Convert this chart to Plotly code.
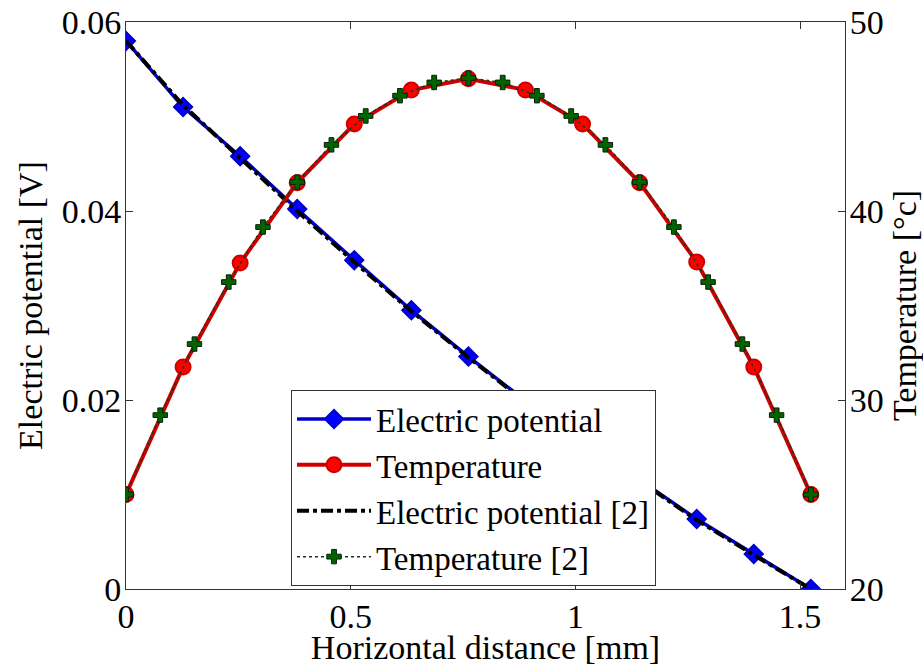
import plotly.graph_objects as go

# Electric potential (simulation) at 13 points
x_ep = [0, 0.127, 0.254, 0.381, 0.508, 0.635, 0.762, 0.889, 1.016, 1.143, 1.27, 1.397, 1.524]
ep = [0.0580, 0.0510, 0.0458, 0.0402, 0.0348, 0.0295, 0.0246, 0.0199, 0.0157, 0.0116, 0.0074, 0.0037, 0.0]

# Electric potential [2]
x_ep2 = [0, 0.127, 0.254, 0.381, 0.508, 0.635, 0.762, 0.889, 1.016, 1.143, 1.27, 1.397, 1.524]
ep2 = [0.0580, 0.0512, 0.0456, 0.0400, 0.0346, 0.0294, 0.0245, 0.0198, 0.0156, 0.0115, 0.0073, 0.0036, 0.0]

# Temperature (simulation) at 13 points
x_t = [0, 0.127, 0.254, 0.381, 0.508, 0.635, 0.762, 0.889, 1.016, 1.143, 1.27, 1.397, 1.524]
temp = [25.0, 31.75, 37.25, 41.5, 44.6, 46.4, 47.0, 46.4, 44.6, 41.5, 37.3, 31.75, 25.0]

# Temperature [2] at 21 points
x_t2 = [0, 0.0762, 0.1524, 0.2286, 0.3048, 0.381, 0.4572, 0.5334, 0.6096, 0.6858, 0.762,
        0.8382, 0.9144, 0.9906, 1.0668, 1.143, 1.2192, 1.2954, 1.3716, 1.4478, 1.524]
temp2 = [25.0, 29.2, 32.96, 36.24, 39.15, 41.53, 43.5, 45.03, 46.1, 46.8, 47.04,
         46.8, 46.1, 45.03, 43.5, 41.53, 39.15, 36.24, 32.96, 29.2, 25.0]

x_ticks = [0, 0.5, 1, 1.5]
x_ticklabels = ["0", "0.5", "1", "1.5"]
y1_ticks = [0, 0.02, 0.04, 0.06]
y1_ticklabels = ["0", "0.02", "0.04", "0.06"]
y2_ticks = [20, 30, 40, 50]

FONT = "Liberation Serif, Times New Roman, serif"
FS = 34

fig = go.Figure()

fig.add_trace(go.Scatter(
    x=x_ep, y=ep, name="Electric potential", mode="lines+markers",
    line=dict(color="#0000cc", width=3.5),
    marker=dict(symbol="diamond", size=14, color="#0000ff", line=dict(color="#0000cc", width=2)),
    yaxis="y"))
fig.add_trace(go.Scatter(
    x=x_t, y=temp, name="Temperature", mode="lines+markers",
    line=dict(color="#cc0000", width=4),
    marker=dict(symbol="circle", size=15, color="#ff0000", line=dict(color="#cc0000", width=2)),
    yaxis="y2"))
fig.add_trace(go.Scatter(
    x=x_ep2, y=ep2, name="Electric potential [2]", mode="lines",
    line=dict(color="black", width=4, dash="dashdot"),
    yaxis="y"))
fig.add_trace(go.Scatter(
    x=x_t2, y=temp2, name="Temperature [2]", mode="lines+markers",
    line=dict(color="#1a3a1a", width=1.5, dash="dot"),
    marker=dict(symbol="cross", size=12, color="#006400", line=dict(color="#0a1f0a", width=1)),
    yaxis="y2"))

axis_common = dict(
    showgrid=False, zeroline=False, showline=True, linecolor="#333333", linewidth=1,
    ticks="inside", ticklen=7, tickcolor="#333333",
    tickfont=dict(family=FONT, size=FS, color="black"),
)

fig.update_layout(
    width=923, height=666,
    margin=dict(l=126, r=78, t=22, b=77, autoexpand=False),
    paper_bgcolor="white", plot_bgcolor="white",
    font=dict(family=FONT, size=FS, color="black"),
    showlegend=True,
    legend=dict(
        x=0.2295, y=0.351, xanchor="left", yanchor="top",
        bgcolor="white", bordercolor="#333333", borderwidth=1,
        font=dict(family=FONT, size=33, color="black"),
        itemwidth=74, tracegroupgap=0, traceorder="normal",
    ),
    xaxis=dict(
        **axis_common, range=[0, 1.6], tickvals=x_ticks, ticktext=x_ticklabels,
        mirror="ticks", ticklabelstandoff=-3,
        title=dict(text="Horizontal distance [mm]", font=dict(family=FONT, size=FS), standoff=6),
    ),
    yaxis=dict(
        **axis_common, range=[0, 0.06], tickvals=y1_ticks, ticktext=y1_ticklabels,
        mirror="ticks", ticklabelstandoff=-3,
        title=dict(text="Electric potential [V]", font=dict(family=FONT, size=FS), standoff=8),
    ),
    yaxis2=dict(
        **axis_common, range=[20, 50], tickvals=y2_ticks,
        overlaying="y", side="right", ticklabelstandoff=-3,
        title=dict(text="Temperature [°c]", font=dict(family=FONT, size=FS), standoff=10),
    ),
)

fig.write_html("out.html", config={"displayModeBar": False},
               post_script="document.body.style.margin='0';")
